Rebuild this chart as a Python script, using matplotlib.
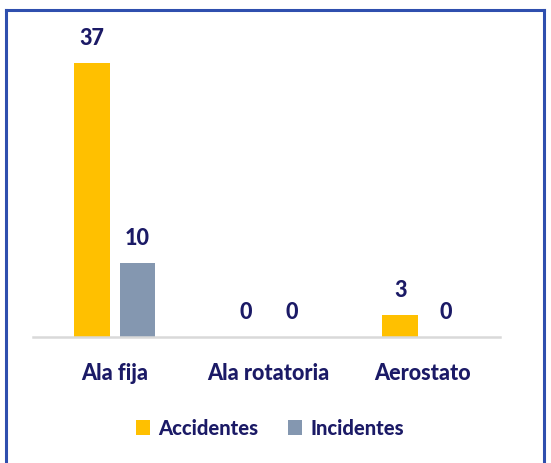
import matplotlib.pyplot as plt
import numpy as np
from matplotlib.lines import Line2D

# Data
categories = ['Ala fija', 'Ala rotatoria', 'Aerostato']
accidentes = [37, 0, 3]
incidentes = [10, 0, 0]

navy = '#1b1a66'
yellow = '#FFC000'
grey = '#8497B0'

plt.rcParams['font.family'] = ['Lato', 'DejaVu Sans']

fig = plt.figure(figsize=(5.51, 4.64), dpi=100)
ax = fig.add_axes([33 / 551, 1 - 338 / 464, 467 / 551, 296 / 464])

x = np.arange(len(categories))
w = 0.23
off = 0.148
b1 = ax.bar(x - off, accidentes, w, color=yellow, label='Accidentes')
b2 = ax.bar(x + off, incidentes, w, color=grey, label='Incidentes')

# value labels above bars
for bars in (b1, b2):
    for rect in bars:
        h = rect.get_height()
        ax.annotate(f'{h:.0f}', (rect.get_x() + rect.get_width() / 2, h),
                    xytext=(0, 11), textcoords='offset points',
                    ha='center', va='bottom', fontsize=15.5,
                    fontweight='black', color=navy)

ax.set_xlim(-0.53, 2.5)
ax.set_ylim(0, 40)
ax.set_yticks([])
ax.set_xticks(x)
ax.set_xticklabels(categories, fontsize=15.5, fontweight='black', color=navy)
ax.tick_params(axis='x', length=0, pad=18)
for s in ['top', 'right', 'left']:
    ax.spines[s].set_visible(False)
ax.spines['bottom'].set_color('#d9d9d9')
ax.spines['bottom'].set_linewidth(1.8)

leg = fig.legend(handles=[b1, b2], loc='center', bbox_to_anchor=(0.49, 1 - 429 / 464),
                 ncol=2, frameon=False, handlelength=0.7, handleheight=0.7,
                 handletextpad=0.4, columnspacing=1.5,
                 prop={'size': 14.5, 'weight': 'black'})
for t in leg.get_texts():
    t.set_color(navy)

# chart border (top, left, right)
bc = '#2f4fae'
fig.add_artist(Line2D([6 / 551, 6 / 551], [0, 1 - 11 / 464], color=bc, lw=2.2, transform=fig.transFigure))
fig.add_artist(Line2D([6 / 551, 544 / 551], [1 - 11 / 464, 1 - 11 / 464], color=bc, lw=2.2, transform=fig.transFigure))
fig.add_artist(Line2D([544 / 551, 544 / 551], [0, 1 - 11 / 464], color=bc, lw=2.2, transform=fig.transFigure))

fig.savefig('out.png', dpi=100)
